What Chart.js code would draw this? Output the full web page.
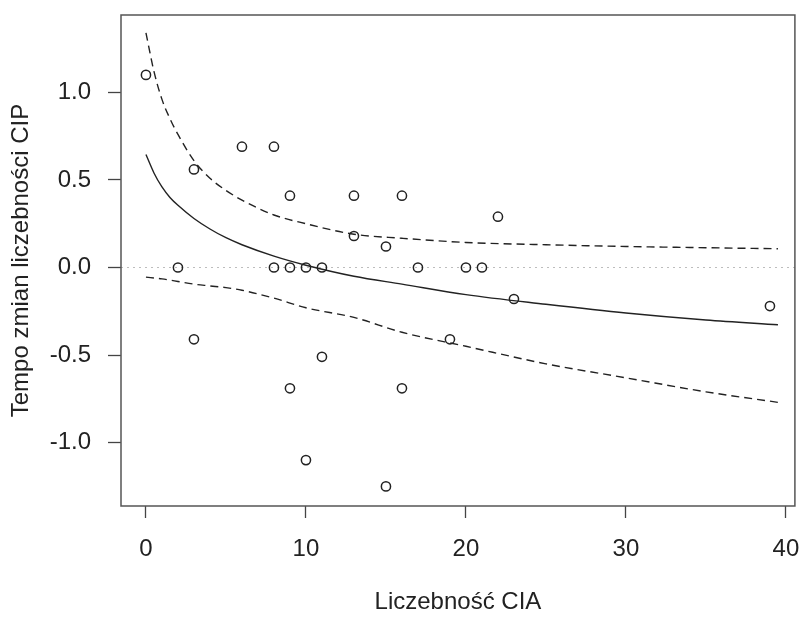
<!DOCTYPE html>
<html lang="pl">
<head>
  <meta charset="UTF-8" />
  <title>Tempo zmian liczebności CIP</title>
  <script src="https://cdn.jsdelivr.net/npm/chart.js"></script>
  <style>
    body {
      margin: 0;
      padding: 0;
      background-color: #ffffff;
    }

    canvas {
      display: block;
    }
  </style>
</head>
<body>
  <canvas id="cipChart" width="801" height="617"></canvas>

  <script>
    // obserwacje: liczebność CIA i tempo zmian CIP
    const obsX = [0, 6, 8, 3, 9, 13, 16, 22, 13, 15, 2, 8, 9, 10, 11, 17, 20, 21,
                  23, 39, 3, 19, 11, 9, 16, 10, 15];
    const obsY = [1.1, 0.69, 0.69, 0.56, 0.41, 0.41, 0.41, 0.29, 0.18, 0.12, 0, 0, 0, 0, 0, 0, 0, 0,
                  -0.18, -0.22, -0.41, -0.41, -0.51, -0.69, -0.69, -1.1, -1.25];

    // dopasowana krzywa i granice przedziału ufności
    const curveX = [0, 0.5, 1, 1.5, 2, 3, 4, 5, 6, 8, 10, 13, 16, 20, 25, 30, 35, 39.5];
    const fitY   = [0.645, 0.54, 0.46, 0.40, 0.355, 0.28, 0.22, 0.17, 0.13, 0.065, 0.013,
                    -0.05, -0.095, -0.155, -0.21, -0.26, -0.30, -0.327];
    const upperY = [1.34, 1.12, 0.96, 0.85, 0.76, 0.61, 0.51, 0.44, 0.385, 0.30, 0.25,
                    0.19, 0.167, 0.143, 0.13, 0.12, 0.113, 0.107];
    const lowerY = [-0.055, -0.06, -0.065, -0.072, -0.08, -0.095, -0.105, -0.115, -0.13, -0.175, -0.23,
                    -0.285, -0.37, -0.45, -0.55, -0.63, -0.71, -0.77];

    const xTicks = [0, 10, 20, 30, 40];
    const yTicks = [-1.0, -0.5, 0.0, 0.5, 1.0];
    const xRange = [-1.56, 40.56];
    const yRange = [-1.362, 1.442];

    const fontFamily = "'Liberation Sans', Arial, sans-serif";
    const fontSize = 24;
    const ink = "#222222";

    function toPoints(xs, ys) {
      return xs.map((x, i) => ({ x: x, y: ys[i] }));
    }

    // ramka wokół obszaru wykresu + kropkowana linia y = 0
    const framePlugin = {
      id: "frame",
      beforeDatasetsDraw(chart) {
        const { ctx, chartArea, scales } = chart;
        const y0 = scales.y.getPixelForValue(0);
        ctx.save();
        ctx.strokeStyle = "#bdbdbd";
        ctx.lineWidth = 1;
        ctx.setLineDash([2, 4]);
        ctx.beginPath();
        ctx.moveTo(chartArea.left, y0);
        ctx.lineTo(chartArea.right, y0);
        ctx.stroke();
        ctx.restore();
      },
      afterDatasetsDraw(chart) {
        const { ctx, chartArea } = chart;
        ctx.save();
        ctx.strokeStyle = "#555555";
        ctx.lineWidth = 1.5;
        ctx.strokeRect(chartArea.left, chartArea.top,
                       chartArea.right - chartArea.left, chartArea.bottom - chartArea.top);
        ctx.restore();
      }
    };

    const ctx = document.getElementById("cipChart").getContext("2d");

    const lineStyle = {
      type: "line",
      showLine: true,
      fill: false,
      pointRadius: 0,
      borderColor: ink,
      borderWidth: 1.4,
      cubicInterpolationMode: "monotone"
    };

    new Chart(ctx, {
      type: "scatter",
      data: {
        datasets: [
          {
            label: "obserwacje",
            data: toPoints(obsX, obsY),
            pointStyle: "circle",
            pointRadius: 4.6,
            pointBorderWidth: 1.5,
            pointBorderColor: ink,
            pointBackgroundColor: "rgba(0,0,0,0)"
          },
          Object.assign({ label: "dopasowanie", data: toPoints(curveX, fitY) }, lineStyle),
          Object.assign({ label: "górna granica", data: toPoints(curveX, upperY), borderDash: [8, 5] }, lineStyle),
          Object.assign({ label: "dolna granica", data: toPoints(curveX, lowerY), borderDash: [8, 5] }, lineStyle)
        ]
      },
      options: {
        responsive: false,
        animation: false,
        layout: {
          padding: { left: 0, top: 15, right: 4, bottom: 0 }
        },
        plugins: {
          legend: { display: false },
          tooltip: { enabled: false }
        },
        scales: {
          x: {
            type: "linear",
            min: xRange[0],
            max: xRange[1],
            afterBuildTicks: scale => { scale.ticks = xTicks.map(v => ({ value: v })); },
            afterFit: scale => {
              scale.height = 111;
              scale.paddingLeft = 0;
              scale.paddingRight = 0;
            },
            border: { display: false },
            grid: {
              drawOnChartArea: false,
              drawTicks: true,
              tickLength: 12,
              tickColor: "#444444",
              tickWidth: 1.3
            },
            ticks: {
              color: ink,
              padding: 17,
              maxRotation: 0,
              font: { family: fontFamily, size: fontSize },
              callback: v => String(v)
            },
            title: {
              display: true,
              text: "Liczebność CIA",
              color: ink,
              font: { family: fontFamily, size: fontSize },
              padding: { top: 0, bottom: 0 }
            }
          },
          y: {
            type: "linear",
            min: yRange[0],
            max: yRange[1],
            afterBuildTicks: scale => { scale.ticks = yTicks.map(v => ({ value: v })); },
            afterFit: scale => {
              scale.width = 121;
              scale.paddingTop = 0;
              scale.paddingBottom = 0;
            },
            border: { display: false },
            grid: {
              drawOnChartArea: false,
              drawTicks: true,
              tickLength: 13,
              tickColor: "#444444",
              tickWidth: 1.3
            },
            ticks: {
              color: ink,
              padding: 17,
              font: { family: fontFamily, size: fontSize },
              callback: v => Number(v).toFixed(1)
            },
            title: {
              display: true,
              text: "Tempo zmian liczebności CIP",
              color: ink,
              font: { family: fontFamily, size: fontSize },
              padding: { top: 7, bottom: 0 }
            }
          }
        }
      },
      plugins: [framePlugin]
    });
  </script>
</body>
</html>
